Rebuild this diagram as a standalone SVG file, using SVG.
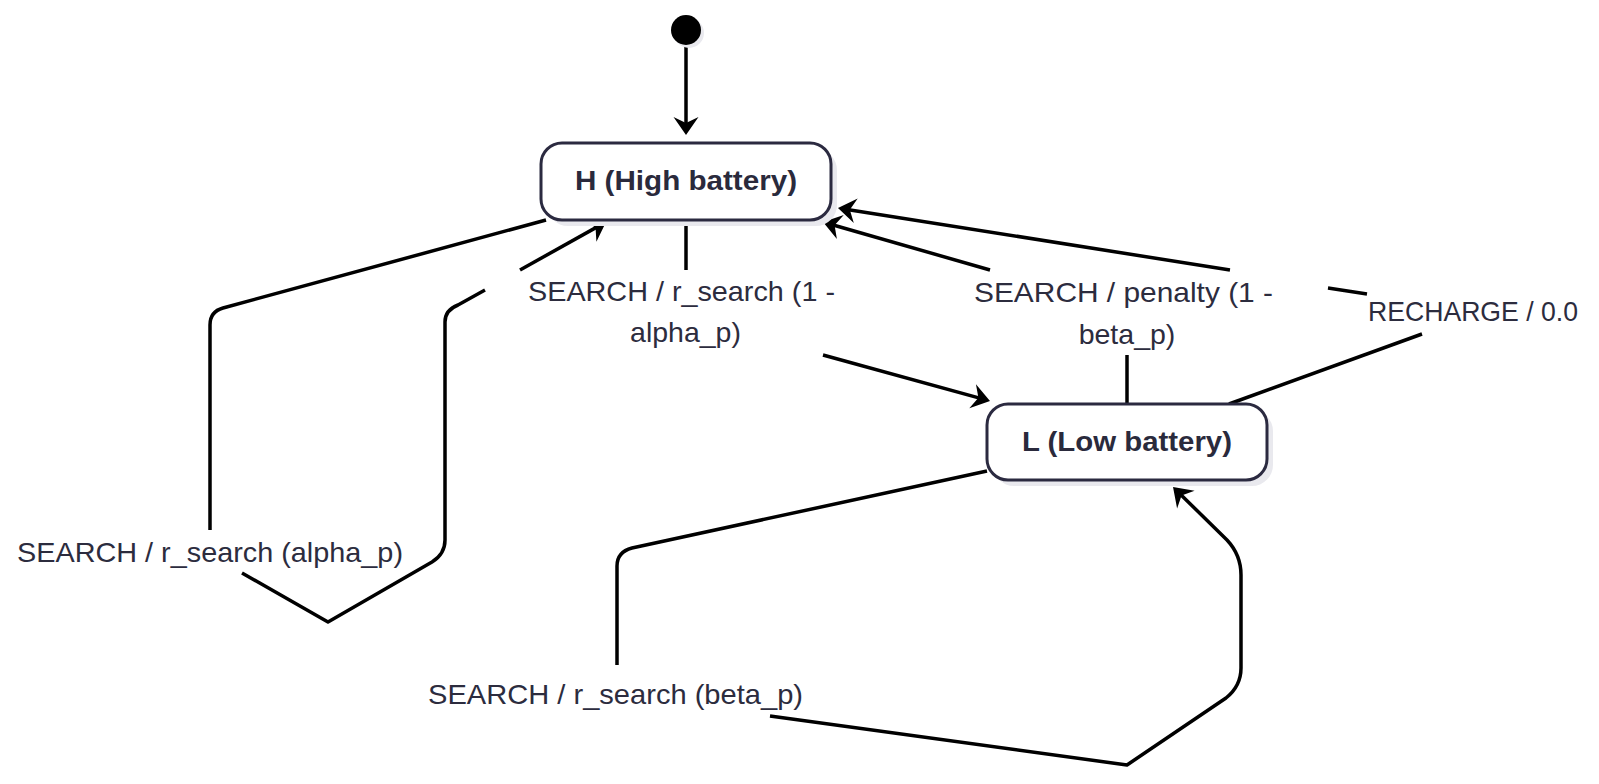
<svg xmlns="http://www.w3.org/2000/svg" width="1599" height="784" viewBox="0 0 1599 784">
<style>
.node rect.box{fill:#ffffff;stroke:#2b2a40;stroke-width:3}
.node rect.shadow{fill:#e9e9ee;stroke:none}
.node text{font-family:"Liberation Sans",Arial,sans-serif;font-weight:bold;font-size:27px;fill:#2a2a3c;text-anchor:middle}
.edge{fill:none;stroke:#000;stroke-width:3.5;stroke-linejoin:round}
.arrow{marker-end:url(#barb)}
.lbl{font-family:"Liberation Sans",Arial,sans-serif;font-size:28.5px;fill:#2c2c3e}
.mid{text-anchor:middle}
</style>
<defs>
<marker id="barb" markerUnits="userSpaceOnUse" viewBox="0 0 20 28" refX="13" refY="14" markerWidth="20" markerHeight="28" orient="auto">
<path d="M1,1.5 L19,14 L1,26.5 L7,14 Z" fill="#000"/>
</marker>
</defs>
<rect width="1599" height="784" fill="#ffffff"/>

<g id="connectors">
<!-- initial -->
<path class="edge arrow" d="M686,45 L686,129"/>
<!-- H -> L -->
<path class="edge" d="M686,221 L686,270"/>
<path class="edge arrow" d="M823,355 L984.2,399.4"/>
<!-- H self loop alpha_p -->
<path class="edge" d="M546,220 L223,308 Q210,311.5 210,325 L210,530"/>
<path class="edge" d="M242,573 L328,622 L432,562 Q445,554 445,540 L445,322 Q445,310 458,305 L485,290"/>
<path class="edge arrow" d="M520,270 L600.8,224.9"/>
<!-- L -> H penalty -->
<path class="edge" d="M1127,404 L1127,355"/>
<path class="edge arrow" d="M990,270 L828.8,223.7"/>
<!-- L -> H recharge -->
<path class="edge" d="M1229,404 L1422,334"/>
<path class="edge" d="M1367,294 L1328,288"/>
<path class="edge arrow" d="M1230,270 L843.9,208.9"/>
<!-- L self loop beta_p -->
<path class="edge" d="M987,471 L632,548 Q617,552 617,566 L617,665"/>
<path class="edge arrow" d="M770,716 L1127,765 L1226,698 Q1241,686 1241,668 L1241,575 Q1241,555 1227,540 L1177.3,491.2"/>
</g>

<g id="labels">
<text class="lbl mid" x="681.5" y="300.5" textLength="307" lengthAdjust="spacingAndGlyphs">SEARCH / r_search (1 -</text>
<text class="lbl mid" x="685.5" y="341.5">alpha_p)</text>
<text class="lbl mid" x="1123.5" y="301.5" textLength="299" lengthAdjust="spacingAndGlyphs">SEARCH / penalty (1 -</text>
<text class="lbl mid" x="1127" y="343.5">beta_p)</text>
<text class="lbl" x="1368" y="321" textLength="210" lengthAdjust="spacingAndGlyphs">RECHARGE / 0.0</text>
<text class="lbl" x="17" y="561.5" textLength="386" lengthAdjust="spacingAndGlyphs">SEARCH / r_search (alpha_p)</text>
<text class="lbl" x="428" y="703.5" textLength="375" lengthAdjust="spacingAndGlyphs">SEARCH / r_search (beta_p)</text>
</g>

<g id="start" class="node">
<circle cx="689" cy="33" r="15" fill="#e9e9ee"/>
<circle cx="686" cy="30" r="15" fill="#000"/>
</g>

<g id="H" class="node">
<rect class="shadow" x="547" y="149" width="290" height="77" rx="21"/>
<rect class="box" x="541" y="143" width="290" height="77" rx="21"/>
<text x="686" y="190" textLength="222" lengthAdjust="spacingAndGlyphs">H (High battery)</text>
</g>

<g id="L" class="node">
<rect class="shadow" x="993" y="410" width="280" height="76" rx="21"/>
<rect class="box" x="987" y="404" width="280" height="76" rx="21"/>
<text x="1127" y="451" textLength="210" lengthAdjust="spacingAndGlyphs">L (Low battery)</text>
</g>
</svg>
